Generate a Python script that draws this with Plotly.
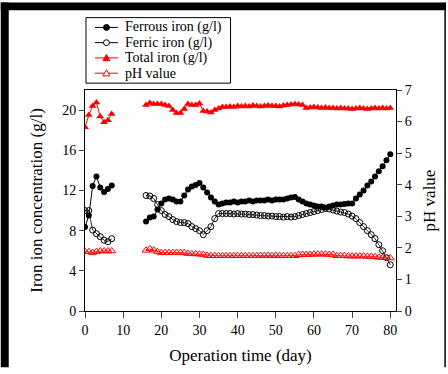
import plotly.graph_objects as go

# ---- data ----
days_a = [0, 1, 2, 3, 4, 5, 6, 7]
days_b = list(range(16, 81))

ferrous_a = [8.35, 9.5, 12.45, 13.4, 12.3, 11.85, 12.15, 12.5]
ferric_a = [10.0, 10.0, 8.05, 7.7, 7.4, 7.05, 6.9, 7.2]
total_a = [18.3, 19.5, 20.4, 20.75, 19.35, 18.8, 19.0, 19.6]
ph_a = [1.88, 1.88, 1.85, 1.88, 1.9, 1.9, 1.9, 1.9]

ferrous_b = [8.9, 9.3, 9.4, 10.1, 10.7, 11.1, 11.2, 11.1, 10.9, 10.9,
             11.5, 12.1, 12.4, 12.55, 12.75, 12.3, 11.8, 11.3, 10.9, 10.6,
             10.7, 10.8, 10.8, 10.9, 10.8, 10.9, 10.9, 11.0, 10.9, 11.0,
             11.0, 11.0, 11.1, 11.0, 11.1, 11.1, 11.1, 11.2, 11.3, 11.35,
             11.1, 10.9, 10.7, 10.6, 10.5, 10.4, 10.4, 10.3, 10.4, 10.5,
             10.6, 10.6, 10.65, 10.7, 10.7, 11.2, 11.6, 12.0, 12.5, 12.9,
             13.4, 13.9, 14.4, 15.0, 15.6]
ferric_b = [11.5, 11.45, 11.2, 10.6, 10.0, 9.6, 9.4, 9.1, 8.9, 8.8,
            8.8, 8.7, 8.4, 8.2, 8.0, 7.6, 8.0, 8.4, 9.2, 9.7,
            9.7, 9.7, 9.7, 9.65, 9.7, 9.65, 9.65, 9.6, 9.6, 9.55,
            9.5, 9.5, 9.45, 9.45, 9.4, 9.4, 9.35, 9.4, 9.35, 9.4,
            9.5, 9.6, 9.7, 9.8, 9.9, 10.0, 10.1, 10.2, 10.15, 10.05,
            9.95, 9.85, 9.8, 9.65, 9.45, 9.2, 8.8, 8.4, 8.0, 7.6,
            7.2, 6.6, 6.0, 5.3, 4.6]
total_b = [20.5, 20.7, 20.6, 20.6, 20.6, 20.5, 20.4, 20.0, 19.7, 19.7,
           20.1, 20.6, 20.5, 20.5, 20.65, 19.9, 19.85, 19.75, 20.0, 20.15,
           20.3, 20.3, 20.35, 20.3, 20.4, 20.35, 20.4, 20.35, 20.45, 20.4,
           20.35, 20.4, 20.45, 20.4, 20.4, 20.35, 20.45, 20.5, 20.55, 20.6,
           20.55, 20.5, 20.2, 20.25, 20.3, 20.25, 20.2, 20.25, 20.2, 20.2,
           20.15, 20.2, 20.15, 20.15, 20.1, 20.15, 20.2, 20.15, 20.1, 20.15,
           20.2, 20.15, 20.2, 20.15, 20.2]
ph_b = [1.92, 1.97, 1.93, 1.88, 1.85, 1.85, 1.85, 1.85, 1.85, 1.85,
        1.85, 1.82, 1.81, 1.81, 1.8, 1.79, 1.76, 1.75, 1.75, 1.75,
        1.75, 1.75, 1.75, 1.75, 1.75, 1.75, 1.75, 1.75, 1.75, 1.75,
        1.76, 1.76, 1.76, 1.75, 1.76, 1.75, 1.75, 1.75, 1.75, 1.75,
        1.78, 1.79, 1.79, 1.79, 1.8, 1.8, 1.8, 1.8, 1.79, 1.79,
        1.75, 1.75, 1.75, 1.74, 1.74, 1.74, 1.74, 1.74, 1.73, 1.73,
        1.72, 1.7, 1.69, 1.69, 1.68]

x_ticks = [0, 10, 20, 30, 40, 50, 60, 70, 80]
y_left_ticks = [0, 4, 8, 12, 16, 20]
y_right_ticks = [0, 1, 2, 3, 4, 5, 6, 7]

names = ["Ferrous iron (g/l)", "Ferric iron (g/l)", "Total iron (g/l)", "pH value"]

def join(a, b):
    return a + [None] + b

days = join(days_a, days_b)

FONT = "Liberation Serif"

fig = go.Figure()
fig.add_trace(go.Scatter(x=days, y=join(ferrous_a, ferrous_b), name=names[0],
                         mode="lines+markers", line=dict(color="black", width=1),
                         marker=dict(symbol="circle", size=6, color="black")))
fig.add_trace(go.Scatter(x=days, y=join(ferric_a, ferric_b), name=names[1],
                         mode="lines+markers", line=dict(color="black", width=0.8),
                         marker=dict(symbol="circle-open", size=6, color="black",
                                     line=dict(width=1))))
fig.add_trace(go.Scatter(x=days, y=join(total_a, total_b), name=names[2],
                         mode="lines+markers", line=dict(color="red", width=1),
                         marker=dict(symbol="triangle-up", size=7, color="red")))
fig.add_trace(go.Scatter(x=days, y=join(ph_a, ph_b), name=names[3], yaxis="y2",
                         mode="lines+markers", line=dict(color="red", width=0.8),
                         marker=dict(symbol="triangle-up-open", size=7, color="red",
                                     line=dict(width=1))))

W, H = 448, 374
L, R, T, B = 85, 397, 90, 316
pw, ph_ = R - L, B - T

def px(xp):
    return (xp - L) / pw

def py(yp):
    return (B - yp) / ph_

shapes = [
    dict(type="rect", xref="paper", yref="paper", x0=px(0.5), x1=px(8.5), y0=py(373.5), y1=py(0.5),
         fillcolor="black", line=dict(width=0), layer="above"),
    dict(type="rect", xref="paper", yref="paper", x0=px(0.5), x1=px(447), y0=py(8.5), y1=py(0.5),
         fillcolor="black", line=dict(width=0), layer="above"),
    dict(type="rect", xref="paper", yref="paper", x0=px(445.5), x1=px(447), y0=py(373.5), y1=py(0.5),
         fillcolor="black", line=dict(width=0), layer="above"),
]

# ---- hand-built legend (compact row spacing like the original) ----
annotations = []
LB_X0, LB_X1, LB_Y0, LB_Y1 = 86, 231, 16, 83
shapes.append(dict(type="rect", xref="paper", yref="paper",
                   x0=px(LB_X0), x1=px(LB_X1), y0=py(LB_Y1), y1=py(LB_Y0),
                   fillcolor="white", line=dict(color="black", width=1), layer="above"))
styles = [("black", "circle", True), ("black", "circle", False),
          ("red", "triangle", True), ("red", "triangle", False)]
for i, (nm, (col, sym, filled)) in enumerate(zip(names, styles)):
    yc = 26 + 15.6 * i
    shapes.append(dict(type="line", xref="paper", yref="paper",
                       x0=px(95), x1=px(118), y0=py(yc), y1=py(yc),
                       line=dict(color=col, width=1), layer="above"))
    fill = col if filled else "white"
    if sym == "circle":
        r = 3
        shapes.append(dict(type="circle", xref="paper", yref="paper",
                           x0=px(106.5 - r), x1=px(106.5 + r), y0=py(yc + r), y1=py(yc - r),
                           fillcolor=fill, line=dict(color=col, width=1), layer="above"))
    else:
        h = 3.5
        path = "M {:.5f},{:.5f} L {:.5f},{:.5f} L {:.5f},{:.5f} Z".format(
            px(106.5), py(yc - h), px(106.5 - h), py(yc + h * 0.8), px(106.5 + h), py(yc + h * 0.8))
        shapes.append(dict(type="path", xref="paper", yref="paper", path=path,
                           fillcolor=fill, line=dict(color=col, width=1), layer="above"))
    annotations.append(dict(xref="paper", yref="paper", x=px(123), y=py(yc),
                            xanchor="left", yanchor="middle", showarrow=False,
                            text=nm, font=dict(family=FONT, size=14, color="black")))

fig.update_layout(
    width=W, height=H,
    margin=dict(l=L, r=W - R, t=T, b=H - B),
    paper_bgcolor="white", plot_bgcolor="white",
    font=dict(family=FONT, size=14, color="black"),
    showlegend=False,
    xaxis=dict(range=[0, 81.5], tickvals=x_ticks, ticks="outside", ticklen=6,
               showline=True, linecolor="black", linewidth=1, mirror=True,
               showgrid=False, zeroline=False,
               title=dict(text="Operation time (day)", standoff=12)),
    yaxis=dict(range=[0, 22], tickvals=y_left_ticks, ticks="outside", ticklen=5,
               showline=True, linecolor="black", linewidth=1,
               showgrid=False, zeroline=False,
               title=dict(text="Iron ion concentration (g/l)", standoff=15)),
    yaxis2=dict(range=[0, 7], tickvals=y_right_ticks, ticks="outside", ticklen=5,
                overlaying="y", side="right",
                showline=True, linecolor="black", linewidth=1,
                showgrid=False, zeroline=False,
                title=dict(text="pH value", standoff=12)),
    shapes=shapes,
    annotations=annotations,
)

fig.write_html("out.html", config={"displayModeBar": False},
               post_script="document.body.style.margin='0';"
                           "document.body.style.overflow='hidden';"
                           "document.documentElement.style.overflow='hidden';")
